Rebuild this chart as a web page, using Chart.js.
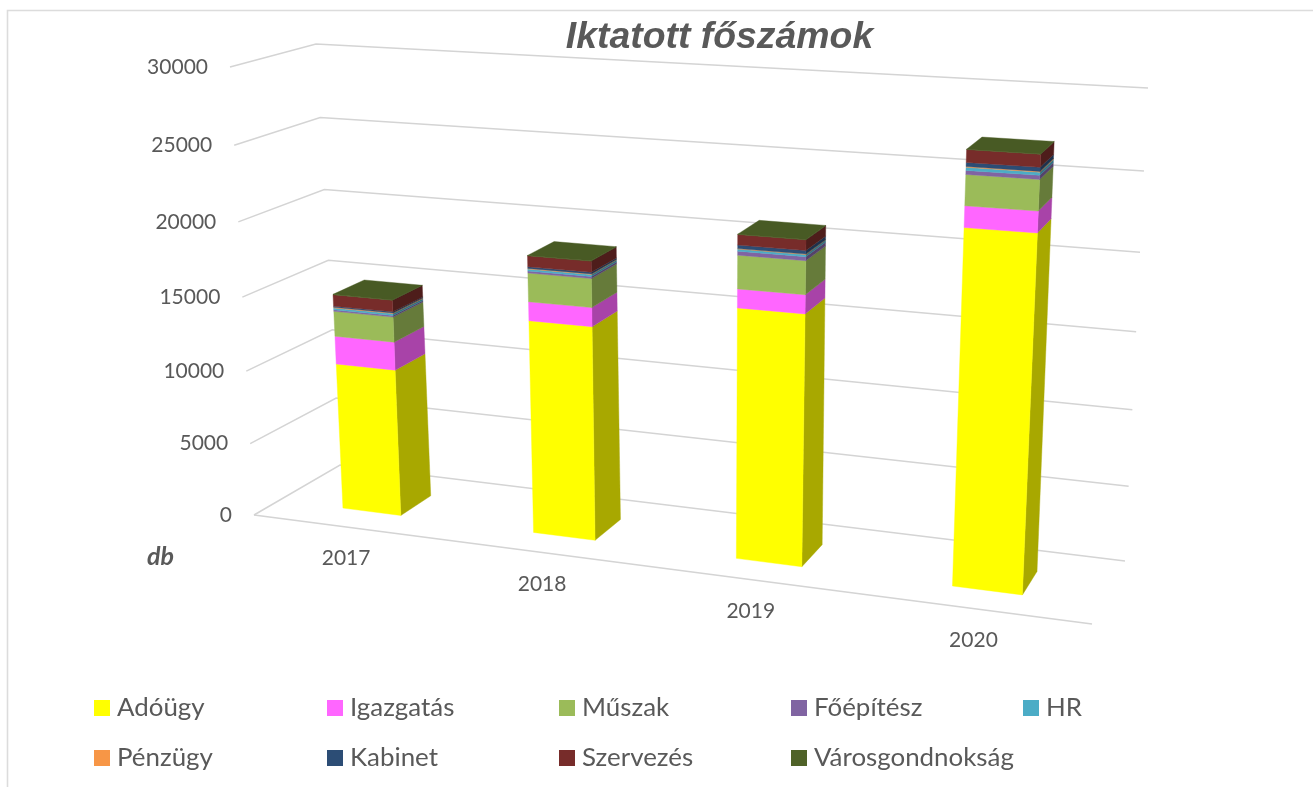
<!DOCTYPE html>
<html><head><meta charset="utf-8">
<style>html,body{margin:0;padding:0;background:#fff}canvas{display:block}</style>
<script src="https://cdn.jsdelivr.net/npm/chart.js@4"></script></head>
<body><canvas id="c" width="1314" height="787"></canvas>
<script>
const categories = ['2017','2018','2019','2020'];
const seriesNames = ['Adóügy','Igazgatás','Műszak','Főépítész','HR','Pénzügy','Kabinet','Szervezés','Városgondnokság'];
const adougy   = [10100,14320,16390,22480];
const igazgatas= [1900,1240,1200,1300];
const muszak   = [1700,1880,2120,1860];
const foepitesz= [100,130,250,240];
const hr       = [130,130,130,180];
const penzugy  = [40,40,30,50];
const kabinet  = [80,100,220,240];
const szervezes= [780,720,660,760];
const varosg   = [20,20,20,20];
const seriesValues = [adougy,igazgatas,muszak,foepitesz,hr,penzugy,kabinet,szervezes,varosg];
const colors = ['#FFFF00','#FF66FF','#9BBB59','#8064A2','#4BACC6','#F79646','#2C4D75','#772C2A','#4F6228'];

function quad(p){ // unit square -> quad: p0(0,0) p1(1,0) p2(1,1) p3(0,1)
  const [x0,y0]=p[0],[x1,y1]=p[1],[x2,y2]=p[2],[x3,y3]=p[3];
  const dx1=x1-x2,dx2=x3-x2,sx=x0-x1+x2-x3,dy1=y1-y2,dy2=y3-y2,sy=y0-y1+y2-y3;
  const den=dx1*dy2-dx2*dy1,g=(sx*dy2-dx2*sy)/den,h=(dx1*sy-sx*dy1)/den;
  const a=x1-x0+g*x1,b=x3-x0+h*x3,d=y1-y0+g*y1,e=y3-y0+h*y3;
  return (u,v)=>{const q=g*u+h*v+1;return [(a*u+b*v+x0)/q,(d*u+e*v+y0)/q];};
}
const frontWall = quad([[254,515],[1092,624],[1119,118],[230,67]]);
const backWall  = quad([[340,465],[1125,561],[1148,88],[316,44]]);
function proj(u,v,w){const f=frontWall(u,v),b=backWall(u,v);return [f[0]+(b[0]-f[0])*w,f[1]+(b[1]-f[1])*w];}
const W0=0.30,W1=0.68,U_SHIFT=0;
function shade(hex,k){const n=parseInt(hex.slice(1),16);return `rgb(${(n>>16&255)*k|0},${(n>>8&255)*k|0},${(n&255)*k|0})`;}
function poly(ctx,pts,fill){ctx.beginPath();pts.forEach((p,i)=>i?ctx.lineTo(p[0],p[1]):ctx.moveTo(p[0],p[1]));ctx.closePath();ctx.fillStyle=fill;ctx.strokeStyle=fill;ctx.lineWidth=.4;ctx.fill();ctx.stroke();}

const perspective = {
  id:'perspective',
  beforeDraw(chart){
    const ctx=chart.ctx,y=chart.scales.y,a=chart.chartArea;
    ctx.save();
    ctx.strokeStyle='#dcdcdc';ctx.lineWidth=1.6;
    ctx.beginPath();ctx.moveTo(7.5,787);ctx.lineTo(7.5,10.5);ctx.lineTo(1313,10.5);ctx.stroke();
    ctx.strokeStyle='#d4d4d4';ctx.lineWidth=1.5;
    y.ticks.forEach(t=>{
      const v=(a.bottom-y.getPixelForValue(t.value))/a.height;
      const f=proj(0,v,0),b=proj(0,v,1),r=proj(1,v,1);
      ctx.beginPath();ctx.moveTo(f[0],f[1]);ctx.lineTo(b[0],b[1]);ctx.lineTo(r[0],r[1]);ctx.stroke();
      ctx.fillStyle='#595959';ctx.font='21px Lato';ctx.textAlign='right';ctx.textBaseline='middle';
      ctx.fillText(t.label,f[0]-22,f[1]);
    });
    const l=proj(0,0,0),rr=proj(1,0,0);
    ctx.beginPath();ctx.moveTo(l[0],l[1]);ctx.lineTo(rr[0],rr[1]);ctx.stroke();
    // category labels
    const x=chart.scales.x;
    ctx.fillStyle='#595959';ctx.font='21px Lato';ctx.textAlign='center';
    categories.forEach((c,i)=>{const p=proj((x.getPixelForValue(i)-a.left)/a.width+U_SHIFT,0,0);ctx.fillText(c,p[0]-1.5,p[1]+31.5);});
    // value axis name
    ctx.font='italic bold 25px Lato';ctx.textAlign='left';ctx.fillText('db',147,557);
    // legend
    ctx.font='25.9px Lato';
    seriesNames.forEach((n,i)=>{
      const col=i%5,row=i<5?0:1,bx=[94,327,559,791,1023][col],by=row?750:700;
      ctx.fillStyle=colors[i];ctx.fillRect(bx,by,16,16);
      ctx.fillStyle='#595959';ctx.fillText(n,bx+23,by+8);
    });
    ctx.restore();
  },
  beforeDatasetsDraw(chart){
    const ctx=chart.ctx,a=chart.chartArea;
    const U=px=>(px-a.left)/a.width+U_SHIFT,V=px=>(a.bottom-px)/a.height;
    categories.forEach((c,i)=>{
      chart.data.datasets.forEach((ds,k)=>{
        const el=chart.getDatasetMeta(k).data[i];
        const u0=U(el.x-el.width/2),u1=U(el.x+el.width/2),v0=V(el.base),v1=V(el.y);
        poly(ctx,[proj(u1,v0,W0),proj(u1,v0,W1),proj(u1,v1,W1),proj(u1,v1,W0)],shade(colors[k],.66));
        poly(ctx,[proj(u0,v0,W0),proj(u1,v0,W0),proj(u1,v1,W0),proj(u0,v1,W0)],colors[k]);
        if(k===chart.data.datasets.length-1)
          poly(ctx,[proj(u0,v1,W0),proj(u1,v1,W0),proj(u1,v1,W1),proj(u0,v1,W1)],shade(colors[k],.92));
      });
    });
    return false;
  }
};

new Chart(document.getElementById('c'),{
  type:'bar',
  data:{labels:categories,datasets:seriesNames.map((n,i)=>({label:n,data:seriesValues[i],backgroundColor:colors[i],categoryPercentage:1,barPercentage:.31}))},
  options:{
    responsive:false,animation:false,
    layout:{padding:{left:215,right:98,top:13,bottom:274}},
    plugins:{
      legend:{display:false},tooltip:{enabled:false},
      title:{display:true,text:'Iktatott főszámok',fullSize:false,color:'#595959',font:{family:'"Liberation Sans"',size:37.4,weight:'bold',style:'italic'},padding:{top:2,bottom:10}}
    },
    scales:{
      x:{stacked:true,grid:{display:false},border:{display:false},ticks:{display:false}},
      y:{stacked:true,min:0,max:30000,grid:{display:false},border:{display:false},ticks:{display:false,stepSize:5000,autoSkip:false,callback:v=>String(v)}}
    }
  },
  plugins:[perspective]
});
</script></body></html>
